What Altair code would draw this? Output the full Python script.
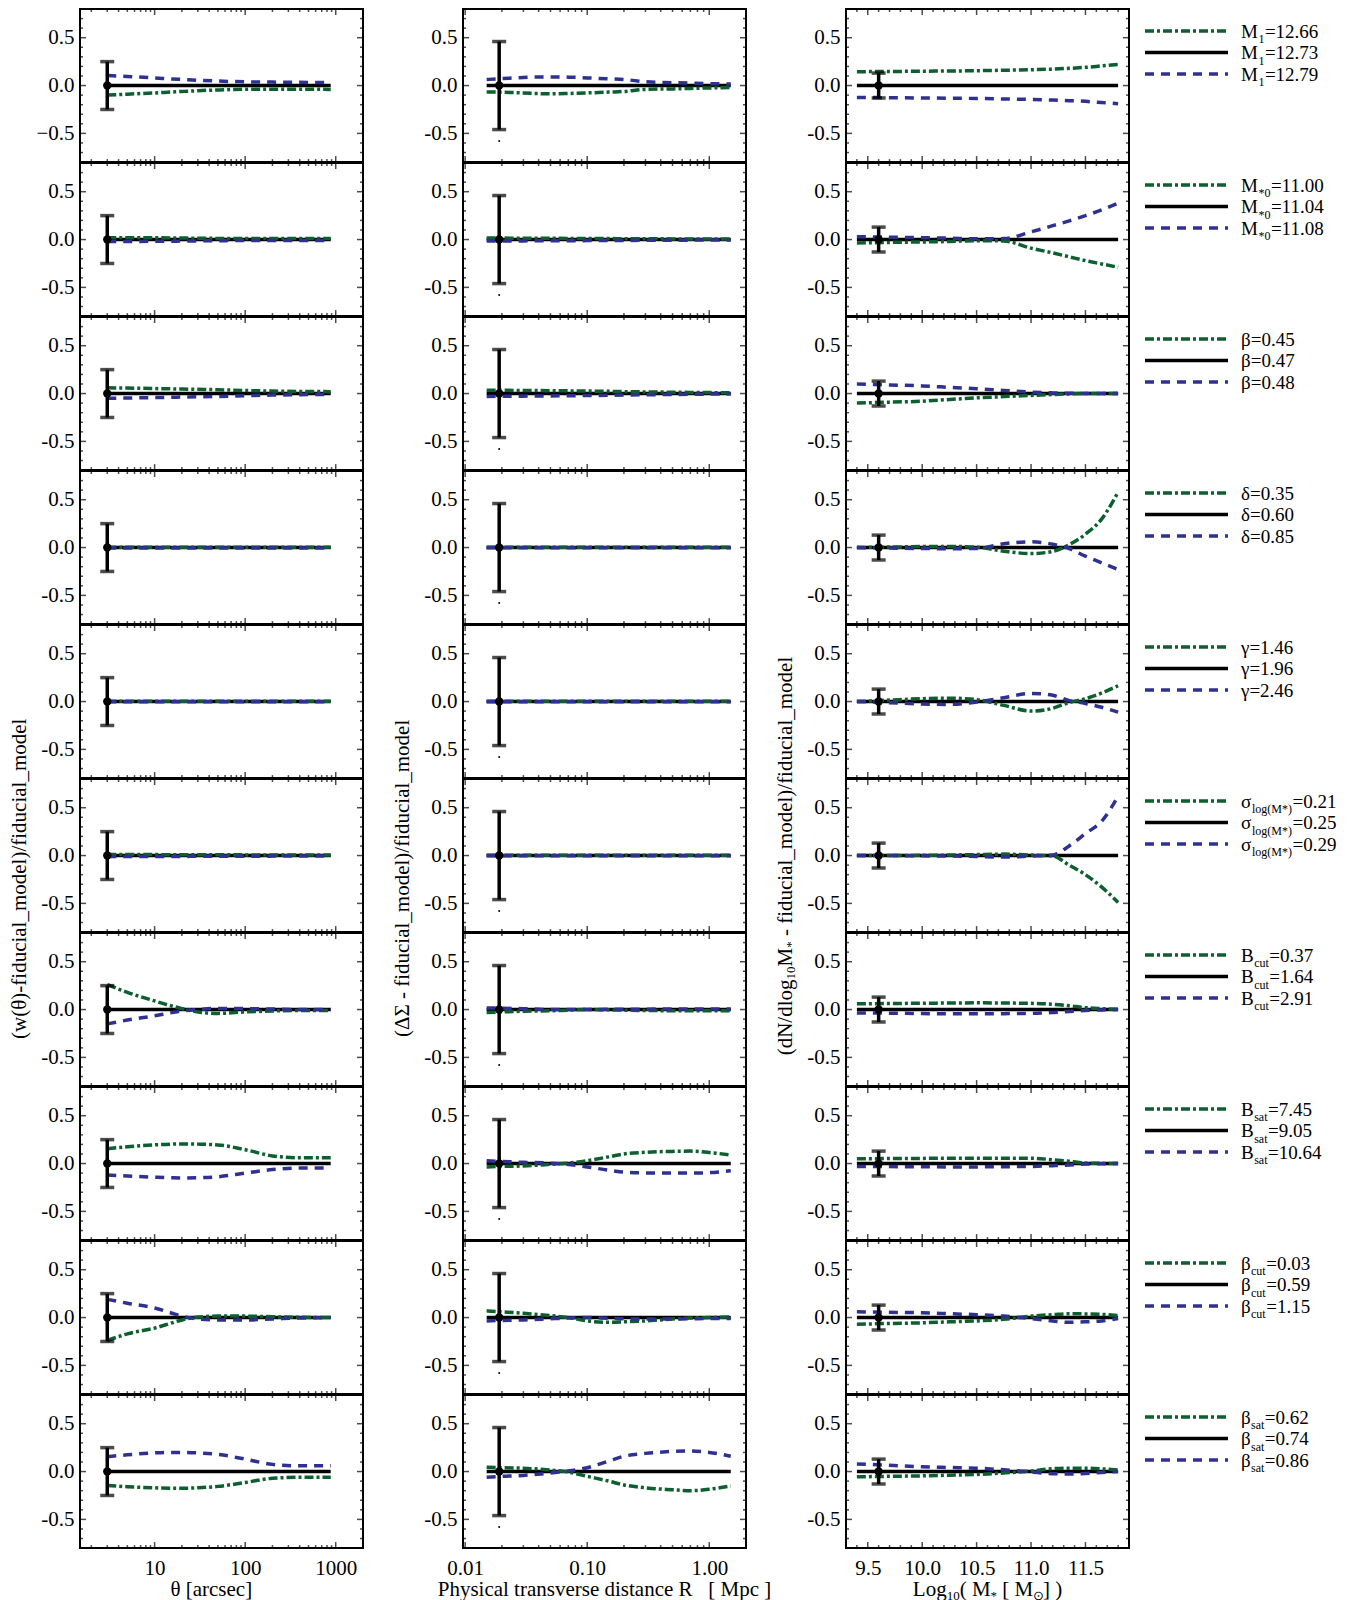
import altair as alt
import pandas as pd

FONT = "Liberation Serif"
GREEN = "#0c5f2e"
BLUE = "#2e3192"
BLACK = "#000000"

# ---------------- x grids of the model curves ----------------
THETA = [3, 5, 10, 15, 20, 30, 50, 100, 200, 400, 880]                       # arcsec
R_MPC = [0.015, 0.02, 0.03, 0.05, 0.07, 0.1, 0.15, 0.2, 0.3, 0.5, 0.7, 1.0, 1.5]  # Mpc
LOGM = [9.4, 9.7, 10.0, 10.25, 10.5, 10.75, 11.0, 11.2, 11.35, 11.5, 11.65, 11.8]

# ---------------- column 1: w(theta) residuals (green = low, blue = high) ----------------
WTH_LOW = [
    [-0.10, -0.09, -0.077, -0.068, -0.062, -0.054, -0.046, -0.039, -0.038, -0.038, -0.04],
    [0.02, 0.02, 0.018, 0.017, 0.016, 0.014, 0.012, 0.01, 0.01, 0.01, 0.01],
    [0.06, 0.057, 0.052, 0.049, 0.047, 0.044, 0.04, 0.032, 0.026, 0.022, 0.02],
    [0.004, 0.004, 0.004, 0.004, 0.004, 0.004, 0.004, 0.004, 0.004, 0.004, 0.004],
    [0.003, 0.003, 0.003, 0.003, 0.003, 0.003, 0.003, 0.003, 0.003, 0.003, 0.003],
    [0.01, 0.01, 0.01, 0.009, 0.009, 0.008, 0.008, 0.007, 0.006, 0.006, 0.006],
    [0.26, 0.18, 0.09, 0.04, 0.01, -0.025, -0.04, -0.025, -0.015, -0.01, -0.01],
    [0.155, 0.175, 0.195, 0.203, 0.205, 0.203, 0.195, 0.145, 0.08, 0.06, 0.06],
    [-0.24, -0.17, -0.11, -0.06, -0.025, 0.005, 0.015, 0.015, 0.008, 0.003, 0.0],
    [-0.145, -0.158, -0.17, -0.174, -0.175, -0.17, -0.155, -0.115, -0.07, -0.06, -0.06],
]
WTH_HIGH = [
    [0.105, 0.095, 0.08, 0.07, 0.064, 0.055, 0.047, 0.039, 0.036, 0.034, 0.03],
    [-0.02, -0.02, -0.018, -0.017, -0.016, -0.014, -0.012, -0.01, -0.01, -0.01, -0.01],
    [-0.05, -0.047, -0.042, -0.039, -0.037, -0.034, -0.03, -0.022, -0.016, -0.012, -0.01],
    [-0.004, -0.004, -0.004, -0.004, -0.004, -0.004, -0.004, -0.004, -0.004, -0.004, -0.004],
    [-0.003, -0.003, -0.003, -0.003, -0.003, -0.003, -0.003, -0.003, -0.003, -0.003, -0.003],
    [-0.01, -0.01, -0.01, -0.009, -0.009, -0.008, -0.008, -0.007, -0.006, -0.006, -0.006],
    [-0.15, -0.11, -0.065, -0.035, -0.015, 0.0, 0.012, 0.01, 0.005, 0.0, 0.0],
    [-0.12, -0.13, -0.143, -0.148, -0.15, -0.148, -0.138, -0.1, -0.063, -0.046, -0.046],
    [0.19, 0.15, 0.1, 0.05, 0.015, -0.015, -0.025, -0.025, -0.015, -0.005, 0.0],
    [0.155, 0.175, 0.195, 0.2, 0.2, 0.195, 0.18, 0.13, 0.075, 0.06, 0.06],
]

# ---------------- column 2: Delta Sigma residuals ----------------
DS_LOW = [
    [-0.066, -0.07, -0.077, -0.087, -0.083, -0.077, -0.068, -0.062, -0.04, -0.035, -0.03, -0.025, -0.02],
    [0.015, 0.015, 0.014, 0.013, 0.012, 0.011, 0.01, 0.009, 0.008, 0.007, 0.006, 0.005, 0.005],
    [0.035, 0.034, 0.032, 0.03, 0.028, 0.026, 0.023, 0.02, 0.017, 0.014, 0.012, 0.01, 0.008],
    [0.003, 0.003, 0.003, 0.003, 0.003, 0.003, 0.003, 0.003, 0.003, 0.003, 0.003, 0.003, 0.003],
    [0.002, 0.002, 0.002, 0.002, 0.002, 0.002, 0.002, 0.002, 0.002, 0.002, 0.002, 0.002, 0.002],
    [0.003, 0.003, 0.003, 0.003, 0.003, 0.003, 0.003, 0.003, 0.003, 0.003, 0.003, 0.003, 0.003],
    [-0.03, -0.025, -0.018, -0.013, -0.006, 0.0, -0.003, -0.006, -0.01, -0.012, -0.013, -0.013, -0.013],
    [-0.035, -0.03, -0.025, -0.008, 0.005, 0.03, 0.07, 0.1, 0.118, 0.127, 0.13, 0.115, 0.09],
    [0.07, 0.06, 0.045, 0.02, 0.0, -0.035, -0.05, -0.045, -0.035, -0.015, -0.005, 0.0, 0.005],
    [0.045, 0.04, 0.035, 0.015, -0.005, -0.05, -0.1, -0.14, -0.17, -0.19, -0.2, -0.185, -0.15],
]
DS_HIGH = [
    [0.063, 0.072, 0.085, 0.09, 0.088, 0.08, 0.07, 0.063, 0.04, 0.03, 0.025, 0.02, 0.017],
    [-0.015, -0.015, -0.014, -0.013, -0.012, -0.011, -0.01, -0.009, -0.008, -0.007, -0.006, -0.005, -0.005],
    [-0.03, -0.029, -0.027, -0.025, -0.023, -0.021, -0.018, -0.016, -0.013, -0.01, -0.008, -0.006, -0.005],
    [-0.003, -0.003, -0.003, -0.003, -0.003, -0.003, -0.003, -0.003, -0.003, -0.003, -0.003, -0.003, -0.003],
    [-0.002, -0.002, -0.002, -0.002, -0.002, -0.002, -0.002, -0.002, -0.002, -0.002, -0.002, -0.002, -0.002],
    [-0.003, -0.003, -0.003, -0.003, -0.003, -0.003, -0.003, -0.003, -0.003, -0.003, -0.003, -0.003, -0.003],
    [0.017, 0.014, 0.009, 0.0, 0.0, 0.0, 0.002, 0.003, 0.004, 0.005, 0.005, 0.005, 0.005],
    [0.03, 0.022, 0.013, 0.004, -0.01, -0.035, -0.07, -0.09, -0.098, -0.1, -0.1, -0.095, -0.075],
    [-0.035, -0.03, -0.025, -0.013, -0.005, 0.0, -0.008, -0.013, -0.015, -0.015, -0.013, -0.01, -0.01],
    [-0.06, -0.05, -0.04, -0.015, 0.005, 0.04, 0.11, 0.16, 0.19, 0.21, 0.215, 0.2, 0.16],
]

# ---------------- column 3: stellar mass function residuals ----------------
SMF_LOW = [
    [0.145, 0.147, 0.15, 0.152, 0.155, 0.16, 0.165, 0.172, 0.18, 0.19, 0.205, 0.22],
    [-0.035, -0.03, -0.025, -0.02, -0.012, -0.015, -0.09, -0.14, -0.18, -0.22, -0.255, -0.29],
    [-0.1, -0.09, -0.08, -0.062, -0.045, -0.032, -0.02, -0.01, -0.004, 0.0, 0.0, 0.0],
    [0.0, 0.005, 0.01, 0.012, 0.003, -0.038, -0.063, -0.04, 0.03, 0.14, 0.3, 0.58],
    [0.0, 0.015, 0.03, 0.035, 0.02, -0.04, -0.1, -0.07, -0.01, 0.03, 0.09, 0.165],
    [0.0, 0.0, 0.003, 0.005, 0.01, 0.015, 0.005, -0.005, -0.1, -0.2, -0.33, -0.49],
    [0.06, 0.063, 0.066, 0.068, 0.07, 0.068, 0.065, 0.055, 0.04, 0.02, 0.01, 0.003],
    [0.05, 0.052, 0.054, 0.055, 0.055, 0.055, 0.055, 0.04, 0.025, 0.005, 0.002, 0.0],
    [-0.07, -0.062, -0.055, -0.045, -0.035, -0.018, 0.015, 0.03, 0.04, 0.038, 0.033, 0.02],
    [-0.055, -0.05, -0.045, -0.038, -0.03, -0.015, 0.005, 0.03, 0.035, 0.035, 0.028, 0.015],
]
SMF_HIGH = [
    [-0.125, -0.127, -0.13, -0.132, -0.135, -0.14, -0.145, -0.152, -0.158, -0.165, -0.178, -0.19],
    [0.03, 0.025, 0.02, 0.015, 0.008, 0.01, 0.08, 0.145, 0.195, 0.25, 0.31, 0.38],
    [0.1, 0.09, 0.08, 0.065, 0.05, 0.032, 0.015, 0.007, 0.003, 0.0, 0.0, 0.0],
    [0.0, -0.005, -0.01, -0.012, -0.01, 0.04, 0.06, 0.035, -0.01, -0.09, -0.16, -0.23],
    [0.0, -0.012, -0.025, -0.03, -0.005, 0.04, 0.085, 0.065, 0.01, -0.02, -0.06, -0.11],
    [0.0, 0.0, -0.003, -0.005, -0.01, -0.015, -0.005, 0.005, 0.1, 0.23, 0.36, 0.62],
    [-0.035, -0.038, -0.042, -0.044, -0.045, -0.043, -0.04, -0.03, -0.02, -0.01, -0.004, 0.0],
    [-0.03, -0.032, -0.034, -0.035, -0.035, -0.033, -0.03, -0.022, -0.015, -0.005, -0.002, 0.0],
    [0.06, 0.055, 0.05, 0.04, 0.03, 0.015, -0.01, -0.035, -0.05, -0.045, -0.035, -0.01],
    [0.08, 0.065, 0.05, 0.042, 0.035, 0.018, -0.005, -0.022, -0.025, -0.02, -0.01, 0.0],
]

# ---------------- error bars ----------------
ERR_X = [3.0, 0.019, 9.6]
ERR_HALF = [0.25, 0.46, 0.13]
SPECK_Y = -0.58

# ---------------- legend texts ----------------
LEG_SYMBOL = ["M", "M", "β", "δ", "γ", "σ", "B", "B", "β", "β"]
LEG_SUB = ["1", "*0", "", "", "", "log(M*)", "cut", "sat", "cut", "sat"]
LEG_VALUES = [
    ["12.66", "12.73", "12.79"],
    ["11.00", "11.04", "11.08"],
    ["0.45", "0.47", "0.48"],
    ["0.35", "0.60", "0.85"],
    ["1.46", "1.96", "2.46"],
    ["0.21", "0.25", "0.29"],
    ["0.37", "1.64", "2.91"],
    ["7.45", "9.05", "10.64"],
    ["0.03", "0.59", "1.15"],
    ["0.62", "0.74", "0.86"],
]

# ---------------- axes ----------------
X_DOMAIN = [[1.5, 2000.0], [0.0096, 2.0], [9.3, 11.9]]
X_LOG = [True, True, False]
X_MAJOR = [[10, 100, 1000], [0.01, 0.1, 1.0], [9.5, 10.0, 10.5, 11.0, 11.5]]
X_MINOR = [
    [2, 3, 4, 5, 6, 7, 8, 9, 20, 30, 40, 50, 60, 70, 80, 90, 200, 300, 400, 500, 600, 700, 800, 900],
    [0.02, 0.03, 0.04, 0.05, 0.06, 0.07, 0.08, 0.09, 0.2, 0.3, 0.4, 0.5, 0.6, 0.7, 0.8, 0.9, 2.0],
    [9.4, 9.6, 9.7, 9.8, 9.9, 10.1, 10.2, 10.3, 10.4, 10.6, 10.7, 10.8, 10.9,
     11.1, 11.2, 11.3, 11.4, 11.6, 11.7, 11.8],
]
X_FORMAT = ["d", ".2f", ".1f"]
Y_MAJOR = [-0.5, 0.0, 0.5]
Y_MINOR = [-0.7, -0.6, -0.4, -0.3, -0.2, -0.1, 0.1, 0.2, 0.3, 0.4, 0.6, 0.7]

# titles as rich-text segments: (text, is_subscript, gap_before_in_spaces)
Y_TITLES = [
    [("(w(θ)-fiducial_model)/fiducial_model", False, 0)],
    [("(ΔΣ - fiducial_model)/fiducial_model", False, 0)],
    [("(dN/dlog", False, 0), ("10", True, 0), ("M", False, 0), ("*", True, 0),
     ("-", False, 1), ("fiducial_model)/fiducial_model", False, 1)],
]
X_TITLES = [
    [("θ [arcsec]", False, 0)],
    [("Physical transverse distance R", False, 0), ("[ Mpc ]", False, 3)],
    [("Log", False, 0), ("10", True, 0), ("(", False, 0), ("M", False, 1), ("*", True, 0),
     ("[", False, 1), ("M", False, 1), ("⊙", True, 0), ("]", False, 0), (")", False, 1)],
]

LOWS = [WTH_LOW, DS_LOW, SMF_LOW]
HIGHS = [WTH_HIGH, DS_HIGH, SMF_HIGH]
GRIDS = [THETA, R_MPC, LOGM]

# ---------------- layout constants ----------------
W = 283
H = 153.1
FS = 21
SUBFS = 13
SER = ["0fid", "1low", "2high"]
COLOR_SCALE = alt.Scale(domain=SER, range=[BLACK, GREEN, BLUE])
DASH_SCALE = alt.Scale(domain=SER, range=[[1, 0], [9, 3, 3, 3], [9, 7]])
TITLE_Y = [99.5, 99.5, 77.0]
TITLE_X = -60
X_TITLE_SHIFT = [-10, 0, 0]

CW = {' ': .25, '(': .333, ')': .333, '*': .5, '.': .25, '/': .278, '=': .564, '_': .5,
      '-': .333, '[': .333, ']': .333, 'A': .722, 'B': .667, 'L': .611, 'M': .889, 'N': .722,
      'P': .556, 'R': .667, 'a': .444, 'b': .5, 'c': .444, 'd': .5, 'e': .444, 'f': .333,
      'g': .5, 'h': .5, 'i': .278, 'l': .278, 'm': .778, 'n': .5, 'o': .5, 'p': .5, 'r': .333,
      's': .389, 't': .278, 'u': .5, 'v': .5, 'w': .722, 'y': .5, 'β': .5, 'γ': .44, 'δ': .5,
      'σ': .55, 'θ': .5, '⊙': .75, 'Δ': .61, 'Σ': .6}


def text_w(s, fs):
    return sum(CW.get(ch, 0.5) for ch in s) * fs


def layout_segments(segs):
    """Return list of (text, is_sub, offset) and total advance, offsets in pixels."""
    out = []
    pos = 0.0
    for t, sub, gap in segs:
        pos += gap * 0.25 * FS
        out.append((t, sub, pos))
        pos += text_w(t, SUBFS if sub else FS)
    return out, pos


def xenc(col, row, field="x"):
    if X_LOG[col]:
        scale = alt.Scale(type="log", domain=X_DOMAIN[col], nice=False)
    else:
        scale = alt.Scale(type="linear", domain=X_DOMAIN[col], nice=False, zero=False)
    if row == 9:
        axis = alt.Axis(values=X_MAJOR[col], format=X_FORMAT[col], ticks=False, domain=False,
                        grid=False, labelPadding=9, title=None, labelFontSize=FS)
    else:
        axis = None
    return alt.X(f"{field}:Q", scale=scale, axis=axis)


def yenc(col, row, field="y"):
    minus = "\u2212" if (col == 0 and row == 0) else "-"
    expr = f"datum.value < 0 ? '{minus}' + format(-datum.value, '.1f') : format(datum.value, '.1f')"
    axis = alt.Axis(values=Y_MAJOR, labelExpr=expr, ticks=False, domain=False, grid=False,
                    labelPadding=6, labelFontSize=FS, title=None)
    return alt.Y(f"{field}:Q", scale=alt.Scale(domain=[-0.8, 0.8], nice=False, zero=False),
                 axis=axis)


def text_layer(t, fs, x, y, angle=0, baseline="alphabetic"):
    kw = dict(align="left", baseline=baseline, font=FONT, fontSize=fs, color="black")
    if angle:
        kw["angle"] = angle
    return alt.Chart(pd.DataFrame({"t": [t]})).mark_text(**kw).encode(
        text="t:N", x=alt.value(x), y=alt.value(y))


def panel(col, row):
    xs = GRIDS[col]
    n = len(xs)
    df = pd.DataFrame({
        "x": list(xs) * 3,
        "y": [0.0] * n + list(LOWS[col][row]) + list(HIGHS[col][row]),
        "s": ["0fid"] * n + ["1low"] * n + ["2high"] * n,
    })
    layers = []
    layers.append(
        alt.Chart(df).mark_line(strokeWidth=3.5, interpolate="monotone").encode(
            x=xenc(col, row), y=yenc(col, row),
            color=alt.Color("s:N", scale=COLOR_SCALE, legend=None),
            strokeDash=alt.StrokeDash("s:N", scale=DASH_SCALE, legend=None),
        )
    )
    # inward ticks on all four sides (centred on the frame, clipped to the plot)
    lo, hi = X_DOMAIN[col]
    for vals, size in ((X_MAJOR[col], 12), (X_MINOR[col], 6)):
        tdf = pd.DataFrame({"x": list(vals) * 2, "y": [-0.8] * len(vals) + [0.8] * len(vals)})
        layers.append(
            alt.Chart(tdf).mark_tick(orient="vertical", size=size, thickness=1.5,
                                     color="black", clip=True)
            .encode(x=xenc(col, row), y=yenc(col, row))
        )
    for vals, size in ((Y_MAJOR, 12), (Y_MINOR, 6)):
        tdf = pd.DataFrame({"x": [lo] * len(vals) + [hi] * len(vals), "y": list(vals) * 2})
        layers.append(
            alt.Chart(tdf).mark_tick(orient="horizontal", size=size, thickness=1.5,
                                     color="black", clip=True)
            .encode(x=xenc(col, row), y=yenc(col, row))
        )
    # error bar
    e = ERR_HALF[col]
    edf = pd.DataFrame({"x": [ERR_X[col]], "lo": [-e], "hi": [e]})
    layers.append(
        alt.Chart(edf).mark_rule(strokeWidth=3.5, color="black").encode(
            x=xenc(col, row), y=yenc(col, row, "lo"), y2="hi:Q")
    )
    cdf = pd.DataFrame({"x": [ERR_X[col]] * 2, "y": [-e, e]})
    layers.append(
        alt.Chart(cdf).mark_tick(orient="horizontal", size=14, thickness=3.5, color="black")
        .encode(x=xenc(col, row), y=yenc(col, row))
    )
    pdf = pd.DataFrame({"x": [ERR_X[col]], "y": [0.0]})
    layers.append(
        alt.Chart(pdf).mark_circle(size=70, color="black", opacity=1)
        .encode(x=xenc(col, row), y=yenc(col, row))
    )
    if col == 1:
        sdf = pd.DataFrame({"x": [ERR_X[col]], "y": [SPECK_Y]})
        layers.append(
            alt.Chart(sdf).mark_circle(size=4, color="black", opacity=1)
            .encode(x=xenc(col, row), y=yenc(col, row))
        )
    # rotated y-axis title (rich text) on the sixth row
    if row == 5:
        segs, total = layout_segments(Y_TITLES[col])
        y0 = TITLE_Y[col] + total / 2
        for t, sub, off in segs:
            layers.append(text_layer(t, SUBFS if sub else FS,
                                     TITLE_X + (5 if sub else 0), y0 - off,
                                     angle=270, baseline="middle"))
    # x-axis title (rich text) on the bottom row
    if row == 9:
        segs, total = layout_segments(X_TITLES[col])
        x0 = W / 2 - total / 2 + X_TITLE_SHIFT[col]
        for t, sub, off in segs:
            layers.append(text_layer(t, SUBFS if sub else FS, x0 + off,
                                     H + 48 + (4 if sub else 0)))
    return alt.layer(*layers).properties(width=W, height=H)


def legend_cell(row):
    sym, sub, vals = LEG_SYMBOL[row], LEG_SUB[row], LEG_VALUES[row]
    order = ["1low", "0fid", "2high"]
    step = 21.5
    first = 22.0
    lscale = alt.Scale(domain=[-first / step, (H - first) / step], reverse=True, nice=False, zero=False)
    yl = alt.Y("idx:Q", scale=lscale, axis=None)
    sw = pd.DataFrame({"idx": [0, 1, 2], "s": order})
    swatch = alt.Chart(sw).mark_rule(strokeWidth=3.5).encode(
        x=alt.value(-84), x2=alt.value(-1), y=yl,
        color=alt.Color("s:N", scale=COLOR_SCALE, legend=None),
        strokeDash=alt.StrokeDash("s:N", scale=DASH_SCALE, legend=None),
    )
    x0 = 12.0
    fs_main, fs_sub = 19, 12
    main_rows, sub_rows = [], []
    for k, v in enumerate(vals):
        if sub:
            wm = text_w(sym, fs_main)
            ws = text_w(sub, fs_sub)
            main_rows.append({"idx": k, "t": sym, "px": x0})
            sub_rows.append({"idx": k, "t": sub, "px": x0 + wm + 0.5})
            main_rows.append({"idx": k, "t": "=" + v, "px": x0 + wm + ws + 1.0})
        else:
            main_rows.append({"idx": k, "t": sym + "=" + v, "px": x0})
    layers = [swatch]
    layers.append(
        alt.Chart(pd.DataFrame(main_rows)).mark_text(
            align="left", baseline="alphabetic", font=FONT, fontSize=fs_main, dy=6.5, color="black")
        .encode(x=alt.X("px:Q", scale=None, axis=None), y=yl, text="t:N")
    )
    if sub_rows:
        layers.append(
            alt.Chart(pd.DataFrame(sub_rows)).mark_text(
                align="left", baseline="alphabetic", font=FONT, fontSize=fs_sub, dy=12, color="black")
            .encode(x=alt.X("px:Q", scale=None, axis=None), y=yl, text="t:N")
        )
    return alt.layer(*layers).properties(
        width=100, height=H, view=alt.ViewBackground(stroke="transparent"))


cells = []
for r in range(10):
    for c in range(3):
        cells.append(panel(c, r))
    cells.append(legend_cell(r))

chart = alt.concat(*cells, columns=4, spacing={"row": 0, "column": 100}, bounds="flush").properties(
    padding={"left": -1, "top": 0, "right": 6, "bottom": 0}
).configure_view(
    stroke="black", strokeWidth=2
).configure_axis(
    labelFont=FONT, titleFont=FONT, labelColor="black", titleColor="black",
    labelFontSize=FS, titleFontSize=FS, grid=False
).configure_text(font=FONT)

chart.save("out.html", embed_options={"renderer": "svg", "actions": False})
